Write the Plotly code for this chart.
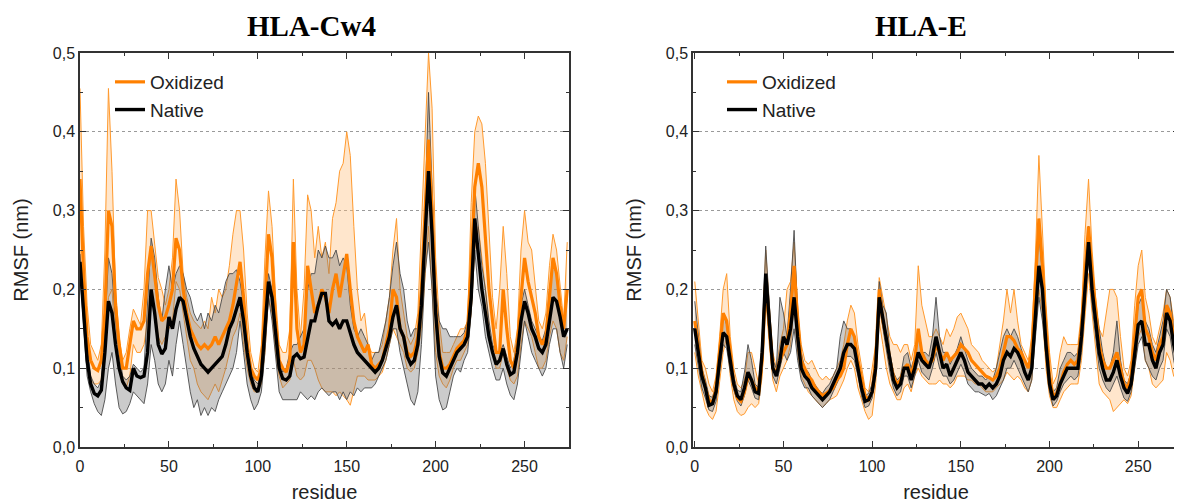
import plotly.graph_objects as go

# ---------------- data ----------------
residues_cw4 = list(range(0, 275, 2))   # 0..274
residues_e = list(range(0, 273, 2))     # 0..272

cw4_nat_mean = [
    0.235, 0.17, 0.11, 0.08, 0.068, 0.065, 0.072, 0.12, 0.185, 0.17,
    0.13, 0.1, 0.083, 0.075, 0.072, 0.1, 0.09, 0.088, 0.09, 0.12,
    0.2, 0.17, 0.13, 0.118, 0.125, 0.165, 0.15, 0.175, 0.19, 0.185,
    0.16, 0.14, 0.125, 0.115, 0.105, 0.1, 0.095, 0.1, 0.105, 0.11,
    0.115, 0.13, 0.15, 0.16, 0.175, 0.19, 0.16, 0.12, 0.09, 0.075,
    0.07, 0.09, 0.15, 0.21, 0.19, 0.14, 0.1, 0.087, 0.085, 0.09,
    0.114, 0.118, 0.112, 0.114, 0.135, 0.16, 0.16, 0.18, 0.195, 0.195,
    0.16, 0.155, 0.16, 0.15, 0.16, 0.16, 0.145, 0.13, 0.12, 0.115,
    0.11, 0.105, 0.1, 0.095, 0.1, 0.11, 0.125, 0.14, 0.165, 0.18,
    0.15, 0.14, 0.115, 0.105, 0.11, 0.13, 0.18, 0.27, 0.35, 0.27,
    0.17, 0.115, 0.094, 0.09, 0.1, 0.11, 0.12, 0.125, 0.13, 0.14,
    0.19, 0.29, 0.24, 0.2, 0.17, 0.14, 0.12, 0.105, 0.11, 0.125,
    0.105, 0.092, 0.095, 0.12, 0.16, 0.185, 0.17, 0.15, 0.14, 0.125,
    0.12, 0.13, 0.16, 0.19, 0.185, 0.165, 0.14, 0.15]
cw4_nat_hi = [
    0.245, 0.18, 0.13, 0.09, 0.08, 0.075, 0.085, 0.15, 0.24, 0.22,
    0.16, 0.12, 0.09, 0.085, 0.09, 0.105, 0.1, 0.095, 0.1, 0.18,
    0.265, 0.24, 0.19, 0.16, 0.2, 0.23, 0.2, 0.22, 0.23, 0.22,
    0.2, 0.19, 0.17, 0.16, 0.17, 0.15, 0.17, 0.16, 0.18, 0.17,
    0.19, 0.21, 0.22, 0.22, 0.225, 0.21, 0.18, 0.14, 0.1, 0.085,
    0.08, 0.1, 0.17, 0.22, 0.2, 0.15, 0.11, 0.095, 0.1, 0.12,
    0.13, 0.13, 0.14, 0.15, 0.2, 0.22, 0.22, 0.25, 0.24, 0.255,
    0.24, 0.24, 0.25, 0.23, 0.24, 0.23, 0.18, 0.15, 0.14, 0.15,
    0.14, 0.13, 0.11, 0.12, 0.12, 0.14, 0.16, 0.19, 0.23, 0.26,
    0.22, 0.2, 0.16, 0.14, 0.15, 0.15, 0.19, 0.3, 0.45, 0.33,
    0.2, 0.16, 0.15, 0.15, 0.14, 0.14, 0.14, 0.14, 0.145, 0.16,
    0.23, 0.33, 0.28, 0.23, 0.2, 0.16, 0.13, 0.12, 0.12, 0.13,
    0.115, 0.1, 0.11, 0.14, 0.18, 0.2, 0.18, 0.16, 0.15, 0.14,
    0.135, 0.15, 0.2, 0.23, 0.22, 0.18, 0.15, 0.19]
cw4_nat_lo = [
    0.22, 0.15, 0.09, 0.07, 0.055, 0.045, 0.04, 0.06, 0.1, 0.12,
    0.08, 0.05, 0.042, 0.045, 0.055, 0.07, 0.065, 0.06, 0.055, 0.08,
    0.13, 0.11, 0.08, 0.07, 0.08, 0.11, 0.09, 0.13, 0.16, 0.13,
    0.1, 0.07, 0.05, 0.06, 0.04, 0.05, 0.04, 0.05, 0.045, 0.06,
    0.07, 0.08, 0.09, 0.1, 0.12, 0.16, 0.12, 0.08, 0.06, 0.047,
    0.055, 0.07, 0.12, 0.19, 0.16, 0.11, 0.07, 0.06, 0.06, 0.06,
    0.06, 0.06, 0.07, 0.065, 0.06, 0.065, 0.06, 0.07, 0.075, 0.07,
    0.065, 0.07, 0.07, 0.06, 0.07, 0.06, 0.07, 0.065, 0.075, 0.07,
    0.075, 0.075, 0.075, 0.08, 0.09, 0.1, 0.11, 0.13, 0.15, 0.15,
    0.12, 0.1, 0.08, 0.06, 0.053, 0.07, 0.13, 0.22, 0.26, 0.2,
    0.09, 0.06, 0.047, 0.05, 0.07, 0.09, 0.1, 0.095, 0.11, 0.12,
    0.17, 0.25, 0.2, 0.178, 0.14, 0.12, 0.1, 0.085, 0.085, 0.1,
    0.08, 0.066, 0.06, 0.08, 0.12, 0.16, 0.14, 0.12, 0.11, 0.1,
    0.09, 0.1, 0.13, 0.15, 0.15, 0.12, 0.1, 0.13]

cw4_ox_mean = [
    0.34, 0.22, 0.14, 0.11, 0.1, 0.097, 0.11, 0.17, 0.3, 0.28,
    0.18, 0.13, 0.1, 0.1, 0.13, 0.16, 0.15, 0.15, 0.16, 0.22,
    0.255, 0.22, 0.18, 0.16, 0.165, 0.18, 0.2, 0.265, 0.25, 0.2,
    0.17, 0.15, 0.14, 0.13, 0.125, 0.13, 0.125, 0.13, 0.14, 0.13,
    0.14, 0.15, 0.16, 0.18, 0.21, 0.235, 0.19, 0.13, 0.1, 0.09,
    0.085, 0.1, 0.18, 0.27, 0.24, 0.16, 0.11, 0.1, 0.095, 0.11,
    0.26, 0.15, 0.12, 0.13, 0.23, 0.2, 0.17, 0.18, 0.2, 0.19,
    0.17, 0.2, 0.22, 0.19, 0.22, 0.245, 0.2, 0.16, 0.14, 0.13,
    0.12, 0.13, 0.105, 0.1, 0.105, 0.11, 0.13, 0.15, 0.2, 0.19,
    0.15, 0.14, 0.12, 0.115, 0.12, 0.14, 0.2, 0.3, 0.39, 0.3,
    0.18, 0.12, 0.1, 0.1, 0.105, 0.115, 0.125, 0.13, 0.135, 0.15,
    0.23, 0.33, 0.36, 0.33, 0.26, 0.2, 0.16, 0.12, 0.12, 0.2,
    0.15, 0.11, 0.1, 0.13, 0.19, 0.24, 0.21, 0.19, 0.17, 0.14,
    0.13, 0.14, 0.19, 0.24, 0.22, 0.18, 0.15, 0.2]
cw4_ox_hi = [
    0.455, 0.28, 0.18, 0.13, 0.12, 0.11, 0.13, 0.25, 0.455, 0.35,
    0.2, 0.14, 0.11, 0.12, 0.15, 0.175, 0.165, 0.155, 0.2, 0.3,
    0.3, 0.26, 0.215, 0.2, 0.18, 0.2, 0.24, 0.34, 0.3, 0.22,
    0.19, 0.17, 0.16, 0.155, 0.15, 0.16, 0.15, 0.19, 0.17, 0.2,
    0.19, 0.2, 0.23, 0.27, 0.3, 0.3, 0.25, 0.17, 0.12, 0.1,
    0.095, 0.13, 0.24, 0.325, 0.28, 0.19, 0.13, 0.12, 0.12, 0.15,
    0.34, 0.2, 0.14, 0.2, 0.32, 0.3, 0.24, 0.28, 0.24, 0.26,
    0.22, 0.29, 0.31, 0.35, 0.36, 0.4, 0.37, 0.28, 0.2, 0.16,
    0.17, 0.13, 0.12, 0.12, 0.12, 0.13, 0.16, 0.19, 0.25, 0.29,
    0.2, 0.17, 0.14, 0.13, 0.14, 0.17, 0.28, 0.4, 0.5, 0.43,
    0.24, 0.16, 0.12, 0.12, 0.12, 0.13, 0.14, 0.15, 0.15, 0.16,
    0.31, 0.4, 0.42, 0.41, 0.36, 0.27, 0.19, 0.15, 0.2, 0.28,
    0.22, 0.14, 0.12, 0.15, 0.25, 0.3, 0.26, 0.25, 0.2, 0.16,
    0.15, 0.17, 0.23, 0.27, 0.25, 0.2, 0.16, 0.26]
cw4_ox_lo = [
    0.25, 0.16, 0.11, 0.085, 0.08, 0.08, 0.085, 0.12, 0.19, 0.2,
    0.13, 0.1, 0.08, 0.075, 0.09, 0.13, 0.12, 0.12, 0.13, 0.16,
    0.2, 0.17, 0.14, 0.13, 0.14, 0.15, 0.16, 0.21, 0.2, 0.17,
    0.14, 0.11, 0.1, 0.08, 0.07, 0.065, 0.06, 0.07, 0.08, 0.07,
    0.085, 0.1, 0.12, 0.14, 0.15, 0.17, 0.13, 0.1, 0.08, 0.07,
    0.07, 0.08, 0.12, 0.19, 0.17, 0.12, 0.09, 0.075, 0.08, 0.085,
    0.11, 0.09, 0.085, 0.09, 0.11, 0.11, 0.1, 0.085, 0.075, 0.07,
    0.07, 0.07, 0.065, 0.07, 0.065, 0.06, 0.053, 0.07, 0.09, 0.09,
    0.09, 0.085, 0.085, 0.085, 0.09, 0.095, 0.11, 0.13, 0.15, 0.14,
    0.13, 0.12, 0.1, 0.095, 0.1, 0.12, 0.15, 0.22, 0.28, 0.2,
    0.12, 0.09, 0.08, 0.075, 0.085, 0.1, 0.11, 0.11, 0.12, 0.13,
    0.17, 0.25, 0.28, 0.24, 0.2, 0.15, 0.12, 0.1, 0.1, 0.12,
    0.1, 0.085, 0.08, 0.09, 0.13, 0.16, 0.15, 0.14, 0.12, 0.1,
    0.1, 0.11, 0.14, 0.16, 0.15, 0.12, 0.11, 0.14]

e_nat_mean = [
    0.15, 0.12, 0.09, 0.075, 0.053, 0.055, 0.07, 0.11, 0.145, 0.14,
    0.11, 0.08, 0.065, 0.06, 0.075, 0.095, 0.085, 0.07, 0.068, 0.12,
    0.22, 0.16, 0.1, 0.09, 0.11, 0.14, 0.13, 0.15, 0.19, 0.14,
    0.1, 0.09, 0.085, 0.075, 0.07, 0.065, 0.06, 0.065, 0.07, 0.08,
    0.09, 0.1, 0.12, 0.13, 0.13, 0.125, 0.1, 0.075, 0.058, 0.06,
    0.07, 0.1, 0.19, 0.165, 0.14, 0.11, 0.085, 0.075, 0.08, 0.1,
    0.1, 0.085, 0.1, 0.12, 0.11, 0.105, 0.1, 0.115, 0.14, 0.12,
    0.1, 0.105, 0.09, 0.1, 0.11, 0.12, 0.11, 0.095, 0.09, 0.085,
    0.08, 0.08, 0.075, 0.08, 0.075, 0.08, 0.09, 0.11, 0.12, 0.115,
    0.125, 0.12, 0.11, 0.095, 0.085, 0.1, 0.17, 0.23, 0.2, 0.13,
    0.08, 0.06, 0.065, 0.08, 0.09, 0.1, 0.1, 0.1, 0.1, 0.14,
    0.2, 0.26, 0.2, 0.16, 0.12, 0.1, 0.085, 0.085, 0.095, 0.11,
    0.09, 0.075, 0.068, 0.08, 0.12, 0.155, 0.16, 0.13, 0.13, 0.11,
    0.1, 0.12, 0.13, 0.17, 0.16, 0.13, 0.11]
e_nat_hi = [
    0.185, 0.14, 0.1, 0.085, 0.065, 0.063, 0.08, 0.125, 0.17, 0.155,
    0.12, 0.09, 0.072, 0.07, 0.095, 0.13, 0.11, 0.08, 0.075, 0.14,
    0.255, 0.18, 0.11, 0.1, 0.19, 0.17, 0.14, 0.2, 0.275, 0.17,
    0.12, 0.1, 0.095, 0.085, 0.078, 0.072, 0.068, 0.075, 0.08, 0.09,
    0.1, 0.14, 0.16, 0.15, 0.15, 0.14, 0.11, 0.085, 0.065, 0.068,
    0.08, 0.12, 0.21, 0.18, 0.17, 0.12, 0.095, 0.085, 0.09, 0.115,
    0.12, 0.1, 0.115, 0.14, 0.12, 0.12, 0.115, 0.14, 0.19, 0.14,
    0.12, 0.12, 0.105, 0.115, 0.125, 0.14, 0.125, 0.11, 0.1, 0.095,
    0.09, 0.09, 0.085, 0.09, 0.085, 0.1, 0.12, 0.14, 0.15, 0.14,
    0.15, 0.14, 0.125, 0.11, 0.1, 0.12, 0.2, 0.27, 0.22, 0.15,
    0.095, 0.07, 0.075, 0.1, 0.11, 0.12, 0.12, 0.115, 0.12, 0.16,
    0.23, 0.28, 0.23, 0.18, 0.15, 0.12, 0.1, 0.1, 0.12, 0.16,
    0.11, 0.085, 0.08, 0.095, 0.14, 0.18, 0.19, 0.16, 0.15, 0.13,
    0.12, 0.14, 0.16, 0.2, 0.19, 0.15, 0.13]
e_nat_lo = [
    0.13, 0.1, 0.075, 0.062, 0.047, 0.045, 0.058, 0.095, 0.13, 0.125,
    0.095, 0.072, 0.058, 0.052, 0.065, 0.085, 0.075, 0.062, 0.06, 0.1,
    0.2, 0.14, 0.09, 0.08, 0.1, 0.12, 0.11, 0.12, 0.15, 0.11,
    0.085, 0.075, 0.075, 0.065, 0.06, 0.055, 0.05, 0.055, 0.06, 0.07,
    0.08, 0.09, 0.11, 0.115, 0.115, 0.11, 0.09, 0.065, 0.05, 0.052,
    0.062, 0.09, 0.18, 0.15, 0.12, 0.095, 0.075, 0.065, 0.07, 0.09,
    0.09, 0.075, 0.09, 0.11, 0.095, 0.09, 0.085, 0.1, 0.12, 0.1,
    0.09, 0.09, 0.08, 0.085, 0.095, 0.105, 0.095, 0.08, 0.075, 0.07,
    0.07, 0.068, 0.065, 0.068, 0.06, 0.065, 0.075, 0.085, 0.1, 0.1,
    0.11, 0.1, 0.09, 0.08, 0.07, 0.085, 0.14, 0.19, 0.16, 0.11,
    0.07, 0.052, 0.058, 0.07, 0.08, 0.085, 0.09, 0.085, 0.09, 0.12,
    0.18, 0.24, 0.18, 0.14, 0.1, 0.085, 0.075, 0.07, 0.08, 0.09,
    0.075, 0.062, 0.058, 0.07, 0.1, 0.13, 0.14, 0.11, 0.1, 0.09,
    0.085, 0.1, 0.11, 0.15, 0.14, 0.11, 0.09]

e_ox_mean = [
    0.16, 0.13, 0.095, 0.075, 0.06, 0.055, 0.075, 0.12, 0.17, 0.16,
    0.115, 0.08, 0.062, 0.058, 0.07, 0.09, 0.085, 0.075, 0.07, 0.11,
    0.21, 0.15, 0.1, 0.095, 0.11, 0.12, 0.13, 0.17, 0.23, 0.16,
    0.11, 0.1, 0.09, 0.085, 0.075, 0.07, 0.065, 0.068, 0.072, 0.075,
    0.085, 0.09, 0.1, 0.13, 0.15, 0.14, 0.11, 0.085, 0.065, 0.06,
    0.07, 0.11, 0.2, 0.16, 0.14, 0.11, 0.09, 0.08, 0.085, 0.1,
    0.105, 0.09, 0.11, 0.15, 0.12, 0.11, 0.105, 0.11, 0.13, 0.12,
    0.11, 0.12, 0.11, 0.115, 0.12, 0.13, 0.125, 0.12, 0.11, 0.105,
    0.1, 0.095, 0.09, 0.088, 0.085, 0.09, 0.1, 0.12, 0.14, 0.14,
    0.135, 0.125, 0.12, 0.11, 0.1, 0.12, 0.2, 0.29, 0.23, 0.15,
    0.09, 0.065, 0.068, 0.08, 0.095, 0.105, 0.11, 0.105, 0.11, 0.15,
    0.22, 0.28, 0.22, 0.17, 0.13, 0.11, 0.1, 0.1, 0.11, 0.12,
    0.1, 0.08, 0.075, 0.09, 0.14, 0.19, 0.2, 0.15, 0.14, 0.12,
    0.11, 0.13, 0.14, 0.18, 0.17, 0.14, 0.12]
e_ox_hi = [
    0.21, 0.16, 0.11, 0.1, 0.08, 0.07, 0.09, 0.14, 0.2, 0.22,
    0.14, 0.1, 0.08, 0.075, 0.085, 0.12, 0.12, 0.1, 0.08, 0.13,
    0.25, 0.18, 0.12, 0.1, 0.13, 0.15, 0.2, 0.21, 0.26, 0.18,
    0.13, 0.11, 0.105, 0.11, 0.1, 0.09, 0.085, 0.09, 0.085, 0.09,
    0.1, 0.11, 0.13, 0.16, 0.18, 0.17, 0.13, 0.1, 0.075, 0.07,
    0.1, 0.13, 0.215, 0.19, 0.16, 0.14, 0.13, 0.13, 0.12, 0.13,
    0.13, 0.11, 0.13, 0.23, 0.18, 0.16, 0.14, 0.14, 0.15, 0.14,
    0.13, 0.15, 0.14, 0.15, 0.165, 0.17, 0.16, 0.15, 0.13, 0.125,
    0.12, 0.11, 0.105, 0.1, 0.095, 0.1, 0.13, 0.16, 0.2, 0.17,
    0.2, 0.16, 0.13, 0.12, 0.11, 0.14, 0.24, 0.37, 0.28, 0.18,
    0.12, 0.08, 0.09, 0.12, 0.14, 0.13, 0.13, 0.13, 0.13, 0.17,
    0.27, 0.34, 0.25, 0.19, 0.15, 0.14, 0.17, 0.2, 0.2, 0.19,
    0.14, 0.1, 0.09, 0.11, 0.18, 0.23, 0.25, 0.19, 0.17, 0.14,
    0.13, 0.15, 0.17, 0.2, 0.19, 0.16, 0.14]
e_ox_lo = [
    0.12, 0.09, 0.07, 0.05, 0.04, 0.035, 0.045, 0.08, 0.12, 0.14,
    0.09, 0.06, 0.045, 0.04, 0.042, 0.05, 0.055, 0.05, 0.055, 0.09,
    0.19, 0.13, 0.085, 0.07, 0.09, 0.1, 0.11, 0.13, 0.18, 0.12,
    0.09, 0.08, 0.07, 0.065, 0.06, 0.055, 0.05, 0.055, 0.06, 0.062,
    0.065, 0.075, 0.085, 0.1, 0.11, 0.1, 0.075, 0.06, 0.045, 0.035,
    0.04, 0.08, 0.16, 0.13, 0.1, 0.08, 0.07, 0.06, 0.06, 0.075,
    0.08, 0.07, 0.09, 0.1, 0.09, 0.085, 0.08, 0.08, 0.08, 0.085,
    0.08, 0.08, 0.075, 0.08, 0.09, 0.09, 0.09, 0.085, 0.085, 0.08,
    0.08, 0.075, 0.07, 0.07, 0.07, 0.075, 0.08, 0.085, 0.095, 0.09,
    0.085, 0.09, 0.085, 0.075, 0.07, 0.085, 0.15, 0.2, 0.17, 0.1,
    0.065, 0.05, 0.05, 0.06, 0.07, 0.075, 0.08, 0.08, 0.08, 0.11,
    0.17, 0.22, 0.17, 0.12, 0.08, 0.07, 0.065, 0.06, 0.045, 0.05,
    0.055, 0.06, 0.055, 0.065, 0.1, 0.14, 0.15, 0.11, 0.1, 0.08,
    0.075, 0.08, 0.085, 0.12, 0.11, 0.09, 0.085]

panel_titles = ["HLA-Cw4", "HLA-E"]
series_names = ["Oxidized", "Native"]
y_tick_vals = [0.0, 0.1, 0.2, 0.3, 0.4, 0.5]
y_tick_text = ["0,0", "0,1", "0,2", "0,3", "0,4", "0,5"]
x_tick_vals = [0, 50, 100, 150, 200, 250]

# ---------------- styling ----------------
ORANGE = "#FF8000"
ORANGE_THIN = "#FF9A2E"
ORANGE_FILL = "rgba(255,190,120,0.38)"
GRAY_LINE = "#4a4a4a"
GRAY_FILL = "rgba(110,110,110,0.36)"
SANS = "Liberation Sans, Arial, sans-serif"

fig = go.Figure()


def add_panel(x, ox_lo, ox_hi, ox_mean, nat_lo, nat_hi, nat_mean, xa, ya, legend):
    n = min(len(x), len(ox_lo), len(ox_hi), len(ox_mean), len(nat_lo), len(nat_hi), len(nat_mean))
    x = x[:n]
    fig.add_trace(go.Scatter(x=x, y=ox_lo[:n], mode="lines", line=dict(color=ORANGE_THIN, width=1),
                             showlegend=False, xaxis=xa, yaxis=ya, hoverinfo="skip"))
    fig.add_trace(go.Scatter(x=x, y=ox_hi[:n], mode="lines", line=dict(color=ORANGE_THIN, width=1),
                             fill="tonexty", fillcolor=ORANGE_FILL,
                             showlegend=False, xaxis=xa, yaxis=ya, hoverinfo="skip"))
    fig.add_trace(go.Scatter(x=x, y=nat_lo[:n], mode="lines", line=dict(color=GRAY_LINE, width=0.9),
                             showlegend=False, xaxis=xa, yaxis=ya, hoverinfo="skip"))
    fig.add_trace(go.Scatter(x=x, y=nat_hi[:n], mode="lines", line=dict(color=GRAY_LINE, width=0.9),
                             fill="tonexty", fillcolor=GRAY_FILL,
                             showlegend=False, xaxis=xa, yaxis=ya, hoverinfo="skip"))
    fig.add_trace(go.Scatter(x=x, y=ox_mean[:n], mode="lines", name=series_names[0],
                             line=dict(color=ORANGE, width=3.2), legend=legend, legendrank=1,
                             xaxis=xa, yaxis=ya))
    fig.add_trace(go.Scatter(x=x, y=nat_mean[:n], mode="lines", name=series_names[1],
                             line=dict(color="black", width=3.4), legend=legend, legendrank=2,
                             xaxis=xa, yaxis=ya))


add_panel(residues_cw4, cw4_ox_lo, cw4_ox_hi, cw4_ox_mean, cw4_nat_lo, cw4_nat_hi, cw4_nat_mean,
          "x", "y", "legend")
add_panel(residues_e, e_ox_lo, e_ox_hi, e_ox_mean, e_nat_lo, e_nat_hi, e_nat_mean,
          "x2", "y2", "legend2")

W, H = 1182, 501
OFF = 8  # page body margin offset of the exported html


def px_x(p):
    return (p - OFF) / W


def px_y(p):
    return (H - (p - OFF)) / H


ydom = [px_y(447), px_y(53)]
xdom1 = [px_x(80), px_x(569)]
xdom2 = [px_x(693), px_x(1179)]

common_x = dict(
    tickvals=x_tick_vals, ticks="inside", ticklen=6, tickwidth=1.2, tickcolor="#333",
    minor=dict(dtick=25, tick0=0, ticks="inside", ticklen=3.5, tickwidth=1, tickcolor="#333"),
    showline=True, linecolor="#333", linewidth=1.5, mirror="ticks",
    showgrid=False, zeroline=False, automargin=False, ticklabelstandoff=4,
    tickfont=dict(family=SANS, size=16, color="#222"),
    title=dict(text="residue", font=dict(family=SANS, size=20, color="#222"), standoff=11),
)
common_y = dict(
    range=[0, 0.5], tickvals=y_tick_vals, ticktext=y_tick_text,
    ticks="inside", ticklen=6, tickwidth=1.2, tickcolor="#333",
    minor=dict(dtick=0.05, tick0=0, ticks="inside", ticklen=3.5, tickwidth=1, tickcolor="#333",
               showgrid=False),
    showline=True, linecolor="#333", linewidth=1.5, mirror="ticks",
    showgrid=True, gridcolor="#9a9a9a", griddash="dot", gridwidth=1, zeroline=False,
    automargin=False,
    tickfont=dict(family=SANS, size=16, color="#222"),
    title=dict(text="RMSF (nm)", font=dict(family=SANS, size=20, color="#222"), standoff=19),
)

legend_common = dict(
    xanchor="left", yanchor="top", bgcolor="rgba(0,0,0,0)", traceorder="normal",
    font=dict(family=SANS, size=19, color="#222"), tracegroupgap=0, itemwidth=30,
)

title_font = dict(family="Liberation Serif, Times New Roman, serif", size=29, color="black",
                  weight="bold")

fig.update_layout(
    width=W, height=H,
    margin=dict(l=0, r=0, t=0, b=0, autoexpand=False),
    paper_bgcolor="white", plot_bgcolor="white",
    showlegend=True,
    xaxis=dict(domain=xdom1, range=[0, 275], anchor="y", **common_x),
    yaxis=dict(domain=ydom, anchor="x", **common_y),
    xaxis2=dict(domain=xdom2, range=[-1, 273], anchor="y2", **common_x),
    yaxis2=dict(domain=ydom, anchor="x2", **common_y),
    legend=dict(x=px_x(110), y=px_y(63), **legend_common),
    legend2=dict(x=px_x(722), y=px_y(63), **legend_common),
    annotations=[
        dict(text=panel_titles[0], x=px_x(311), y=px_y(26), xref="paper", yref="paper",
             showarrow=False, xanchor="center", yanchor="middle", font=title_font),
        dict(text=panel_titles[1], x=px_x(921), y=px_y(26), xref="paper", yref="paper",
             showarrow=False, xanchor="center", yanchor="middle", font=title_font),
    ],
)

fig.write_html("out.html")
